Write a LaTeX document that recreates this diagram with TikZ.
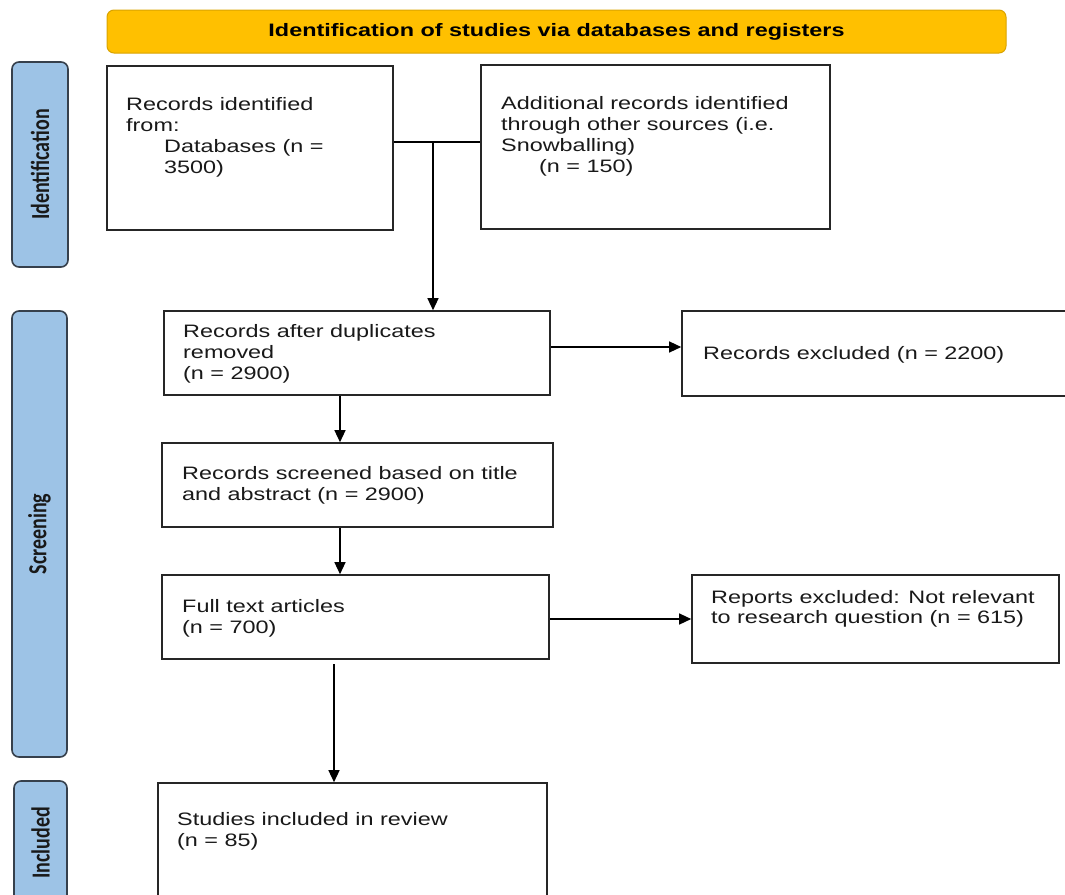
\documentclass[tikz,border=0pt]{standalone}
\usepackage{fontspec}
\setmainfont{Liberation Sans}[FakeStretch=1.3]
\newfontfamily\sidefont{Carlito}
\usetikzlibrary{arrows.meta}
\definecolor{bannerfill}{HTML}{FFC000}
\definecolor{bannerdraw}{HTML}{D9A300}
\definecolor{sidefill}{HTML}{9DC3E6}
\definecolor{sidedraw}{HTML}{36404C}
\definecolor{boxdraw}{HTML}{262626}
\tikzset{
  box/.style={draw=boxdraw, line width=1.6pt, inner sep=0pt, fill=white},
  txt/.style={anchor=north west, inner sep=0pt, align=left, font=\fontsize{18}{21}\selectfont, text=black!90},
  sidebox/.style={draw=sidedraw, line width=1.6pt, fill=sidefill, rounded corners=7pt, rotate=90, inner sep=0pt,
    font=\sidefont\bfseries\fontsize{20}{22}\selectfont, text=black!90},
  arr/.style={draw=black, line width=1.3pt, -{Triangle[length=12pt,width=11pt]}},
  conn/.style={draw=black, line width=1.3pt}
}
\begin{document}
\begin{tikzpicture}[x=1pt,y=-1pt]
\useasboundingbox (0,0) rectangle (1065,894);
% banner
\node[draw=bannerdraw, line width=1pt, fill=bannerfill, rounded corners=7pt, minimum width=899, minimum height=43,
  font=\bfseries\fontsize{18}{21}\selectfont] (banner) at (556.5,31.5) {Identification of studies via databases and registers};
% side labels
\node[sidebox, minimum width=205, minimum height=56] (sid) at (40,164.5) {\scalebox{1}[1.3]{Identification}};
\node[sidebox, minimum width=446, minimum height=55] (sscr) at (39.5,534) {\scalebox{1}[1.3]{Screening}};
\node[sidebox, minimum width=124, minimum height=53] (sinc) at (40.5,843) {\scalebox{1}[1.3]{Included}};
% boxes
\node[box, minimum width=286, minimum height=164] (b1) at (250,148) {};
\node[box, minimum width=349, minimum height=164] (b2) at (655.5,147) {};
\node[box, minimum width=386, minimum height=84] (b3) at (357,353) {};
\node[box, minimum width=393, minimum height=85] (b4) at (878.5,353.5) {};
\node[box, minimum width=391, minimum height=84] (b5) at (357.5,485) {};
\node[box, minimum width=387, minimum height=84] (b6) at (355.5,617) {};
\node[box, minimum width=367, minimum height=88] (b7) at (875.5,619) {};
\node[box, minimum width=389, minimum height=122] (b8) at (352.5,844) {};
% texts
\node[txt] (t1) at (126,97) {Records identified\\from:\\\hspace*{38pt}Databases (n =\\\hspace*{38pt}3500)};
\node[txt] (t2) at (501,96) {Additional records identified\\through other sources (i.e.\\Snowballing)\\\hspace*{38pt}(n = 150)};
\node[txt] (t3) at (183,324) {Records after duplicates\\removed\\(n = 2900)};
\node[txt] (t4) at (703,346) {Records excluded (n = 2200)};
\node[txt] (t5) at (182,466) {Records screened based on title\\and abstract (n = 2900)};
\node[txt] (t6) at (182,599) {Full text articles\\(n = 700)};
\node[txt, font=\fontsize{18}{20}\selectfont] (t7) at (711,590) {Reports excluded: Not relevant\\to research question (n = 615)};
\node[txt] (t8) at (177,812) {Studies included in review\\(n = 85)};
% connectors
\coordinate (j) at (433,142);
\draw[conn] (b1.east |- j) -- (b2.west |- j);
\draw[arr] (j) -- (b3.north -| j);
\coordinate (c34) at (551,347);
\draw[arr] (c34) -- (b4.west |- c34);
\coordinate (c35) at (340,396);
\draw[arr] (c35) -- (b5.north -| c35);
\coordinate (c56) at (340,528);
\draw[arr] (c56) -- (b6.north -| c56);
\coordinate (c67) at (550,619);
\draw[arr] (c67) -- (b7.west |- c67);
\coordinate (c68) at (334,664);
\draw[arr] (c68) -- (b8.north -| c68);
\end{tikzpicture}
\end{document}
